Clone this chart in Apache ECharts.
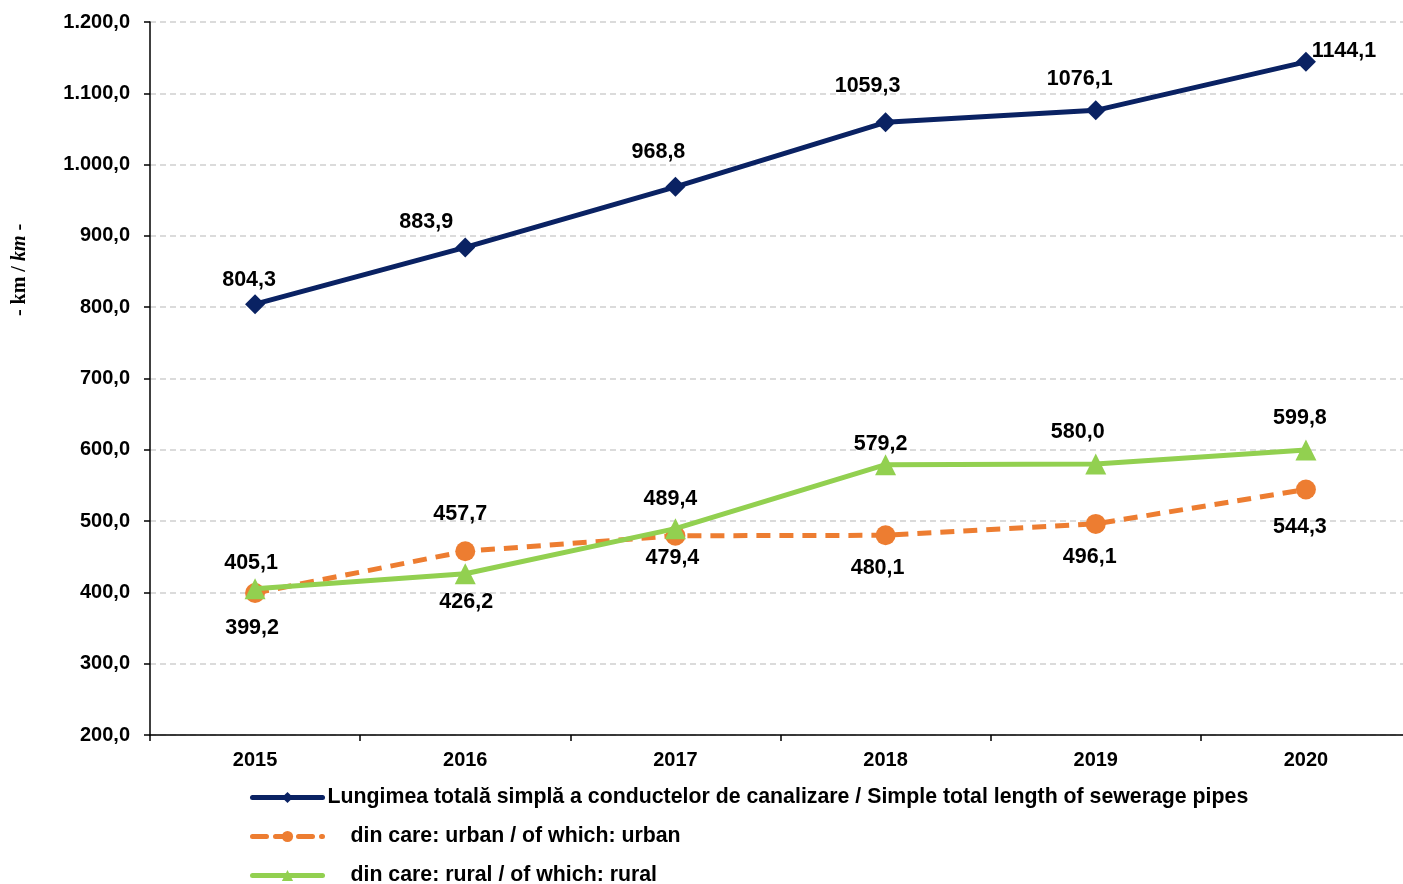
<!DOCTYPE html>
<html>
<head>
<meta charset="utf-8">
<script src="https://cdn.jsdelivr.net/npm/echarts@6/dist/echarts.min.js"></script>
<style>html,body{margin:0;padding:0;background:#fff}#c{width:1403px;height:884px}</style>
</head>
<body>
<div id="c"></div>
<script>
const years = ['2015', '2016', '2017', '2018', '2019', '2020'];
const totalValues = [804.3, 883.9, 968.8, 1059.3, 1076.1, 1144.1];
const urbanValues = [399.2, 457.7, 479.4, 480.1, 496.1, 544.3];
const ruralValues = [405.1, 426.2, 489.4, 579.2, 580.0, 599.8];
const seriesNames = [
  'Lungimea totală simplă a conductelor de canalizare / Simple total length of sewerage pipes',
  'din care: urban / of which: urban',
  'din care: rural / of which: rural'
];
const yTicks = { min: 200, max: 1200, interval: 100 };
const yAxisTitle = ['- km / ', 'km', ' -'];

// label placement (offset of label centre from the marker centre)
const totalLabelOffsets = [[-6, -24], [-39, -25], [-17, -35], [-18, -36], [-16, -31], [38, -11]];
const urbanLabelOffsets = [[-3, 35], [-5, -37], [-3, 22], [-8, 33], [-6, 33], [-6, 38]];
const ruralLabelOffsets = [[-4, -26], [1, 28], [-5, -30], [-5, -21], [-18, -32], [-6, -32]];

const fmtAxis = (v) => {
  const parts = v.toFixed(1).split('.');
  parts[0] = parts[0].replace(/\B(?=(\d{3})+(?!\d))/g, '.');
  return parts.join(',');
};
const fmtLabel = (v) => v.toFixed(1).replace('.', ',');
const FONT = 'Liberation Sans, Arial, sans-serif';

function buildData(values, offsets) {
  return values.map((v, i) => ({
    value: v,
    label: { offset: offsets[i] }
  }));
}
const labelBase = {
  show: true,
  position: 'inside',
  align: 'center',
  verticalAlign: 'middle',
  fontFamily: FONT,
  fontWeight: 'bold',
  fontSize: 21.5,
  color: '#000',
  formatter: p => fmtLabel(p.value)
};

const chart = echarts.init(document.getElementById('c'), null, { renderer: 'canvas' });
const legendText = { fontFamily: FONT, fontWeight: 'bold', fontSize: 21.3, color: '#000' };
const legendCommon = {
  orient: 'horizontal',
  left: 250,
  itemWidth: 70,
  itemHeight: 14,
  padding: 0,
  lineStyle: { width: 5, cap: 'round' },
  textStyle: legendText
};
chart.setOption({
  animation: false,
  backgroundColor: '#fff',
  grid: { left: 150, right: -8, top: 22, bottom: 149, containLabel: false, outerBoundsMode: 'none' },
  legend: [
    Object.assign({}, legendCommon, { top: 787, data: [seriesNames[0]] }),
    Object.assign({}, legendCommon, { top: 826, data: [seriesNames[1]],
      textStyle: Object.assign({}, legendText, { padding: [0, 0, 0, 23] }) }),
    Object.assign({}, legendCommon, { top: 865, data: [seriesNames[2]],
      textStyle: Object.assign({}, legendText, { padding: [0, 0, 0, 23] }) })
  ],
  xAxis: {
    type: 'category',
    data: years,
    boundaryGap: true,
    axisLine: { lineStyle: { color: '#000', width: 1.5 } },
    axisTick: { show: true, length: 6, inside: false, lineStyle: { color: '#000', width: 1.5 } },
    axisLabel: { fontFamily: FONT, fontWeight: 'bold', fontSize: 20, color: '#000', margin: 15 },
    splitLine: { show: false }
  },
  yAxis: {
    type: 'value',
    min: yTicks.min,
    max: yTicks.max,
    interval: yTicks.interval,
    axisLine: { show: true, lineStyle: { color: '#000', width: 1.5 } },
    axisTick: { show: true, length: 6, lineStyle: { color: '#000', width: 1.5 } },
    axisLabel: {
      fontFamily: FONT, fontWeight: 'bold', fontSize: 20, color: '#000', margin: 20,
      formatter: v => fmtAxis(v)
    },
    splitLine: { show: true, lineStyle: { color: '#cfcfcf', type: [6, 4], width: 1.5 } }
  },
  graphic: [{
    type: 'text',
    x: 20,
    y: 270,
    rotation: Math.PI / 2,
    style: {
      text: '{n|' + yAxisTitle[0] + '}{i|' + yAxisTitle[1] + '}{n|' + yAxisTitle[2] + '}',
      align: 'center',
      verticalAlign: 'middle',
      rich: {
        n: { fontFamily: 'Liberation Serif, Times New Roman, serif', fontSize: 20, fontWeight: 'bold', fill: '#000' },
        i: { fontFamily: 'Liberation Serif, Times New Roman, serif', fontSize: 20, fontWeight: 'bold', fontStyle: 'italic', fill: '#000' }
      }
    }
  }],
  series: [
    {
      name: seriesNames[0],
      type: 'line',
      data: buildData(totalValues, totalLabelOffsets),
      symbol: 'diamond',
      symbolSize: 20,
      itemStyle: { color: '#0a2263' },
      lineStyle: { color: '#0a2263', width: 5 },
      label: labelBase,
      z: 3
    },
    {
      name: seriesNames[1],
      type: 'line',
      data: buildData(urbanValues, urbanLabelOffsets),
      symbol: 'circle',
      symbolSize: 20,
      itemStyle: { color: '#ed7d31' },
      lineStyle: { color: '#ed7d31', width: 5, type: [14, 9] },
      label: labelBase,
      z: 2
    },
    {
      name: seriesNames[2],
      type: 'line',
      data: buildData(ruralValues, ruralLabelOffsets),
      symbol: 'triangle',
      symbolSize: 21,
      itemStyle: { color: '#92d050' },
      lineStyle: { color: '#92d050', width: 5 },
      label: labelBase,
      z: 4
    }
  ]
});
</script>
</body>
</html>
